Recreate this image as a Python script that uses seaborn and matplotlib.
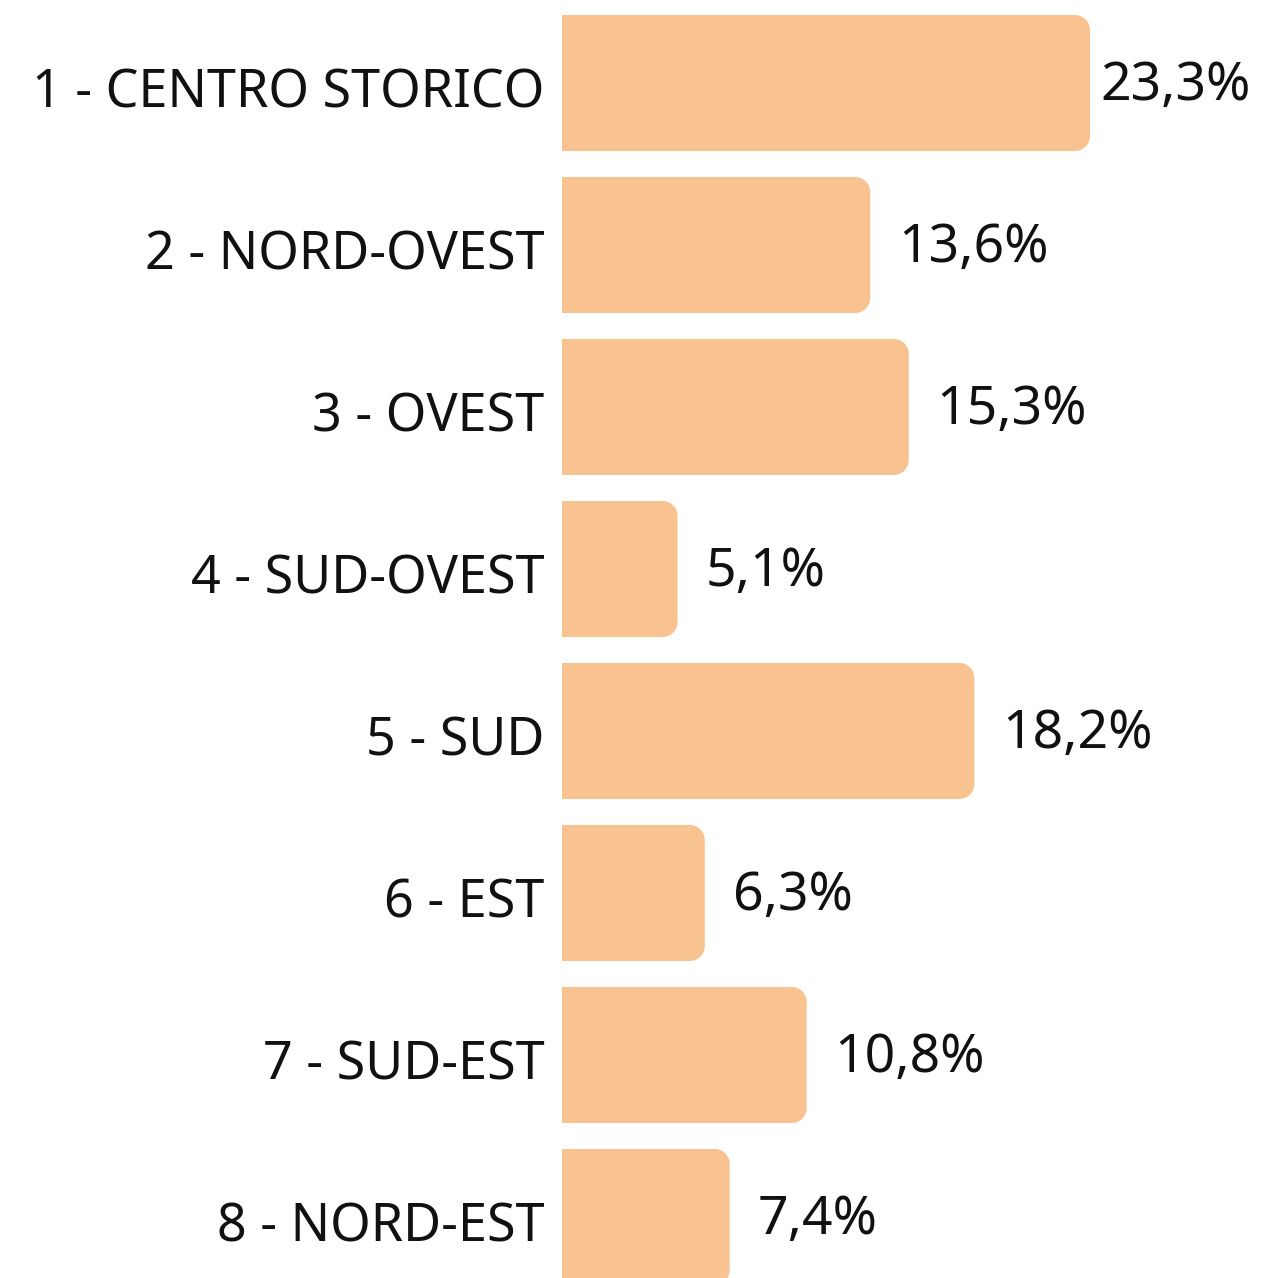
import pandas as pd
import seaborn as sns
import matplotlib.pyplot as plt
import matplotlib.transforms as mtransforms
from matplotlib.path import Path
from matplotlib.patches import PathPatch

zones = ['1 - CENTRO STORICO', '2 - NORD-OVEST', '3 - OVEST', '4 - SUD-OVEST',
         '5 - SUD', '6 - EST', '7 - SUD-EST', '8 - NORD-EST']
shares = [23.3, 13.6, 15.3, 5.1, 18.2, 6.3, 10.8, 7.4]
share_labels = ['23,3%', '13,6%', '15,3%', '5,1%', '18,2%', '6,3%', '10,8%', '7,4%']

df = pd.DataFrame({'zona': zones, 'quota': shares})

sns.set_style('white')
plt.rcParams['font.family'] = ['Noto Sans', 'DejaVu Sans']

W, H = 1264, 1278
x0_px = 562           # left edge of the bars
px_per_unit = 22.66   # pixels per percentage point
band_px = 162         # distance between bar centres
first_px = 83         # centre of first bar from top

fig = plt.figure(figsize=(W / 100, H / 100), dpi=100)
ax = fig.add_axes([x0_px / W, 0, 1 - x0_px / W, 1])
sns.barplot(data=df, x='quota', y='zona', color='#F8C291', saturation=1,
            width=136 / band_px, ax=ax)

ax.set_xlim(0, (W - x0_px) / px_per_unit)
ax.set_ylim((H - first_px) / band_px, -first_px / band_px)

# swap the plain rectangles for ones with rounded right corners
rx = 15 / px_per_unit
ry = 15 / band_px
k = 0.5523
for p in list(ax.patches):
    x, y = p.get_x(), p.get_y()
    w, h = p.get_width(), p.get_height()
    x1, y1 = x + w, y + h
    verts = [(x, y), (x1 - rx, y),
             (x1 - rx + k * rx, y), (x1, y + ry - k * ry), (x1, y + ry),
             (x1, y1 - ry),
             (x1, y1 - ry + k * ry), (x1 - rx + k * rx, y1), (x1 - rx, y1),
             (x, y1), (x, y)]
    codes = [Path.MOVETO, Path.LINETO,
             Path.CURVE4, Path.CURVE4, Path.CURVE4,
             Path.LINETO,
             Path.CURVE4, Path.CURVE4, Path.CURVE4,
             Path.LINETO, Path.CLOSEPOLY]
    ax.add_patch(PathPatch(Path(verts, codes), facecolor=p.get_facecolor(),
                           edgecolor='none'))
    p.remove()

for i, (v, lab) in enumerate(zip(shares, share_labels)):
    pad = 10 if v == max(shares) else 28
    ax.annotate(lab, xy=(v, i), xytext=(pad * 0.72, -2.2), textcoords='offset points',
                ha='left', va='center', fontsize=38.5, color='#111111')

ax.set_xlabel('')
ax.set_ylabel('')
ax.set_xticks([])
ax.tick_params(axis='y', length=0, pad=12.5, labelsize=37.5, labelcolor='#111111')
shift = mtransforms.ScaledTranslation(0, -4 / 100, fig.dpi_scale_trans)
for t in ax.get_yticklabels():
    t.set_transform(t.get_transform() + shift)
sns.despine(ax=ax, left=True, bottom=True)

plt.savefig('out.png', dpi=100)
